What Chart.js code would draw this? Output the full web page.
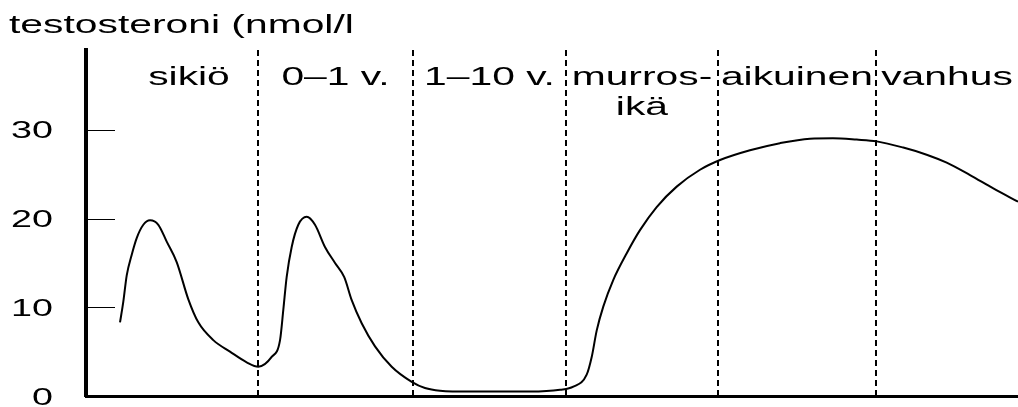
<!DOCTYPE html>
<html>
<head>
<meta charset="utf-8">
<script src="https://cdn.jsdelivr.net/npm/chart.js@4.4.1/dist/chart.umd.min.js"></script>
<style>
  html, body { margin: 0; padding: 0; background: #fff; }
  #wrap { width: 1018px; height: 407px; }
</style>
</head>
<body>
<div id="wrap"><canvas id="c" width="1018" height="407"></canvas></div>
<script>
// Position along the life span (0 = start of axis, 100 = right end)
const lifePos = [
  3.65, 4.0, 4.37, 4.9, 5.44, 6.15, 6.87, 7.76, 8.66, 9.73, 10.98, 12.05, 13.66, 15.45, 17.24,
  18.49, 19.92, 20.82, 21.17, 21.53, 22.07, 22.78, 23.68, 24.57, 25.64, 26.72, 27.71, 28.51,
  29.58, 31.01, 32.8, 34.95, 36.37, 37.98, 41.2, 44.42, 47.64, 50.86, 52.29, 53.72, 54.26,
  54.8, 55.51, 56.58, 58.02, 59.44, 61.23, 63.38, 65.88, 68.03, 71.24, 74.46, 77.68, 80.15,
  82.69, 84.84, 87.69, 90.2, 92.35, 94.85, 97.35, 100
];
// Testosterone level, nmol/l
const testosterone = [
  8.3, 10.6, 13.6, 15.9, 17.8, 19.3, 19.8, 19.3, 17.4, 15.1, 10.9, 8.3, 6.3, 5.0, 3.8,
  3.3, 4.4, 6.3, 9.7, 13.4, 16.8, 19.3, 20.2, 19.3, 16.8, 15.0, 13.4, 10.8,
  8.2, 5.6, 3.3, 1.6, 0.9, 0.6, 0.5, 0.5, 0.5, 0.7, 1.05, 2.4, 4.4,
  7.4, 10.1, 13.1, 16.1, 18.7, 21.3, 23.6, 25.5, 26.6, 27.7, 28.5, 29.0, 29.05,
  28.9, 28.7, 28.0, 27.2, 26.3, 24.9, 23.4, 21.9
];
// Boundaries between life stages
const stageBounds = [18.45, 35.09, 51.5, 67.8, 84.76];
// Life stage names (one entry per band, multi-line as arrays)
const stageNames = ['sikiö', '0–1 v.', '1–10 v.', ['murros-', 'ikä'], 'aikuinen', 'vanhus'];
// Value axis tick labels
const yTickValues = [0, 10, 20, 30];
const yTitle = 'testosteroni (nmol/l';

const FONT = '"Liberation Sans", Arial, Helvetica, sans-serif';
const STRETCH = 1.57;

function stretchedText(ctx, text, x, y, size, align) {
  ctx.save();
  ctx.font = size + 'px ' + FONT;
  ctx.fillStyle = '#000';
  ctx.textBaseline = 'alphabetic';
  ctx.textAlign = 'left';
  const w = ctx.measureText(text).width * STRETCH;
  let left = x;
  if (align === 'center') left = x - w / 2;
  else if (align === 'right') left = x - w;
  ctx.translate(left, y);
  ctx.scale(STRETCH, 1);
  ctx.fillText(text, 0, 0);
  ctx.restore();
}

const annotations = {
  id: 'annotations',
  afterDraw(chart) {
    const ctx = chart.ctx;
    const xs = chart.scales.x, ys = chart.scales.y;
    const area = chart.chartArea;

    // axis title
    stretchedText(ctx, yTitle, 9, 33, 26, 'left');

    // inward tick marks and stretched tick labels
    ctx.save();
    ctx.strokeStyle = '#000';
    ctx.lineWidth = 1;
    yTickValues.forEach(v => {
      const py = ys.getPixelForValue(v);
      if (v !== 0) {
        ctx.beginPath();
        ctx.moveTo(area.left, Math.round(py) + 0.5);
        ctx.lineTo(area.left + 29, Math.round(py) + 0.5);
        ctx.stroke();
      }
      stretchedText(ctx, String(v), 53, py + 8.5, 24, 'right');
    });
    ctx.restore();

    // stage names, centred in each band
    stageNames.forEach((name, i) => {
      const from = i === 0 ? lifePos[0] : stageBounds[i - 1];
      const to = i === stageNames.length - 1 ? xs.max : stageBounds[i];
      const cx = (xs.getPixelForValue(from) + xs.getPixelForValue(to)) / 2;
      const lines = Array.isArray(name) ? name : [name];
      lines.forEach((ln, k) => stretchedText(ctx, ln, cx, 85 + k * 30, 26, 'center'));
    });
  }
};

new Chart(document.getElementById('c'), {
  type: 'line',
  data: {
    datasets: [{
      data: lifePos.map((x, i) => ({ x, y: testosterone[i] })),
      borderColor: '#000',
      borderWidth: 2,
      pointRadius: 0,
      cubicInterpolationMode: 'monotone',
      fill: false
    }]
  },
  options: {
    responsive: false,
    animation: false,
    devicePixelRatio: 1,
    layout: { padding: { left: 86, top: 50, right: 0, bottom: 11 } },
    plugins: {
      legend: { display: false },
      tooltip: { enabled: false },
      title: { display: false }
    },
    scales: {
      x: {
        type: 'linear',
        min: 0,
        max: 100,
        afterBuildTicks: s => { s.ticks = stageBounds.map(v => ({ value: v })); },
        ticks: { display: false },
        grid: { display: true, color: '#000', lineWidth: 2, drawTicks: false, drawOnChartArea: true },
        border: { display: true, color: '#000', width: 3, dash: [6, 4] }
      },
      y: {
        min: 0,
        max: 39,
        ticks: { display: false },
        grid: { display: true, drawOnChartArea: false, drawTicks: false },
        border: { display: true, color: '#000', width: 4 }
      }
    }
  },
  plugins: [annotations]
});
</script>
</body>
</html>
